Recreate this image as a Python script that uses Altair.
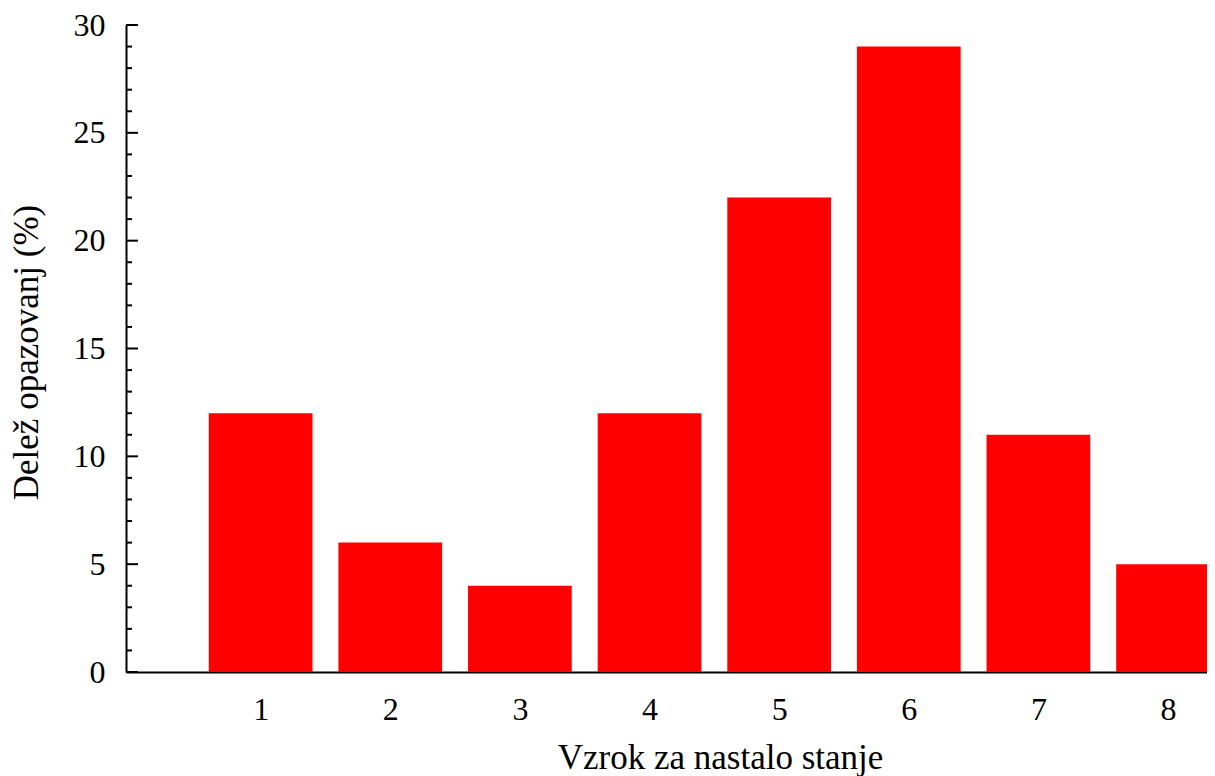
import altair as alt
import pandas as pd

categories = [1, 2, 3, 4, 5, 6, 7, 8]
values = [12, 6, 4, 12, 22, 29, 11, 5]
major_ticks = [0, 5, 10, 15, 20, 25, 30]
minor_ticks = [1, 2, 3, 4, 6, 7, 8, 9, 11, 12, 13, 14, 16, 17, 18, 19,
               21, 22, 23, 24, 26, 27, 28, 29]
x_labels = [1, 2, 3, 4, 5, 6, 7, 8]

FONT = "Liberation Serif"

df = pd.DataFrame({"cat": categories, "value": values})
df_major = pd.DataFrame({"value": major_ticks})
df_minor = pd.DataFrame({"value": minor_ticks})

yscale = alt.Scale(domain=[0, 30], nice=False, zero=True)
yaxis = alt.Axis(values=major_ticks, ticks=False, tickSize=0, grid=False,
                 labelPadding=21, labelFontSize=32,
                 title="Delež opazovanj (%)", titleFontSize=35,
                 titleX=-89, titleY=327, titleAngle=270,
                 titleBaseline="alphabetic", titleAlign="center",
                 domainWidth=2, domainColor="black")

bars = alt.Chart(df).transform_calculate(
    start="datum.cat - 0.4", end="datum.cat + 0.4"
).mark_bar(color="#ff0000", clip=True, orient="vertical").encode(
    x=alt.X("start:Q",
            scale=alt.Scale(domain=[0, 8.262], nice=False, zero=False),
            axis=alt.Axis(values=x_labels, format="d", ticks=False, tickSize=0,
                          grid=False, labelPadding=22, labelFontSize=32,
                          title="Vzrok za nastalo stanje", titleFontSize=35,
                          titleX=594, titleY=96, titleBaseline="alphabetic",
                          titleAlign="center", domainWidth=2, domainColor="black")),
    x2="end:Q",
    y=alt.Y("value:Q", scale=yscale, axis=yaxis),
    y2=alt.datum(0),
)

major = alt.Chart(df_major).mark_rule(color="black", strokeWidth=2).encode(
    x=alt.value(0), x2=alt.value(12),
    y=alt.Y("value:Q", scale=yscale, axis=yaxis),
)

minor = alt.Chart(df_minor).mark_rule(color="black", strokeWidth=2).encode(
    x=alt.value(0), x2=alt.value(6),
    y=alt.Y("value:Q", scale=yscale, axis=yaxis),
)

chart = alt.layer(bars, major, minor).properties(
    width=1081, height=647,
    autosize=alt.AutoSizeParams(type="none"),
    padding={"left": 118, "top": 17, "right": 0, "bottom": 104},
    background="white",
).configure_view(stroke=None).configure_axis(
    labelFont=FONT, titleFont=FONT, labelColor="black", titleColor="black",
    titleFontWeight="normal",
)

chart.save("out.html", embed_options={"renderer": "svg", "actions": False})
